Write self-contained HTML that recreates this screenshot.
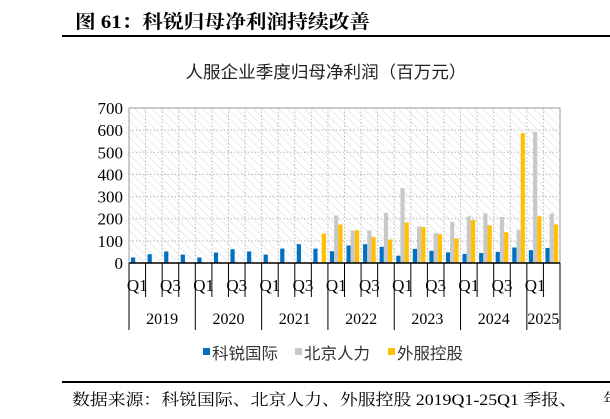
<!DOCTYPE html>
<html><head><meta charset="utf-8"><style>
body{margin:0;background:#fff;}
svg{display:block;}
</style></head><body>
<svg width="610" height="419" xmlns="http://www.w3.org/2000/svg">
<defs>
<pattern id="hatch" width="6" height="6" patternUnits="userSpaceOnUse" patternTransform="rotate(-45)">
<rect width="6" height="6" fill="#fff"/><line x1="0" y1="0" x2="0" y2="6" stroke="#e4e4e4" stroke-width="1.5"/>
</pattern>
</defs>
<text x="75" y="28" textLength="295" lengthAdjust="spacingAndGlyphs" font-family="'Liberation Serif','Noto Serif CJK SC',serif" font-size="19" font-weight="bold" fill="#000">图 61：科锐归母净利润持续改善</text>
<line x1="62" y1="36" x2="610" y2="36" stroke="#000" stroke-width="2"/>
<text x="326" y="78" textLength="281" lengthAdjust="spacingAndGlyphs" text-anchor="middle" font-family="'Liberation Sans','Noto Sans CJK SC',sans-serif" font-size="17" fill="#222">人服企业季度归母净利润（百万元）</text>
<rect x="129" y="108" width="431" height="155" fill="url(#hatch)" stroke="#999"/>
<g id="grid"></g>
<g id="bars"></g>
<g id="axes"></g>
<g font-family="'Liberation Sans','Noto Sans CJK SC',sans-serif" font-size="16" fill="#333">
<rect x="203" y="348" width="7" height="7" fill="#0070c0"/>
<text x="212" y="359" textLength="66" lengthAdjust="spacingAndGlyphs">科锐国际</text>
<rect x="295" y="348" width="7" height="7" fill="#c8c8c8"/>
<text x="304" y="359" textLength="66" lengthAdjust="spacingAndGlyphs">北京人力</text>
<rect x="388" y="348" width="7" height="7" fill="#ffc000"/>
<text x="397" y="359" textLength="66" lengthAdjust="spacingAndGlyphs">外服控股</text>
</g>
<line x1="62" y1="382" x2="610" y2="382" stroke="#000" stroke-width="2"/>
<text x="72" y="405" textLength="505" lengthAdjust="spacingAndGlyphs" font-family="'Liberation Serif','Noto Serif CJK SC',serif" font-size="16" fill="#000">数据来源：科锐国际、北京人力、外服控股 2019Q1-25Q1 季报、</text>
<text x="603" y="405" font-family="'Liberation Serif','Noto Serif CJK SC',serif" font-size="16" fill="#000">年</text>
</svg>
<script>
const quarters=["Q1","Q2","Q3","Q4","Q1","Q2","Q3","Q4","Q1","Q2","Q3","Q4","Q1","Q2","Q3","Q4","Q1","Q2","Q3","Q4","Q1","Q2","Q3","Q4","Q1","Q2"];
const years=["2019","2020","2021","2022","2023","2024","2025"];
const kerui=[25,40,52,38,25,47,62,52,38,65,85,65,53,79,85,73,33,64,55,48,41,45,50,70,58,68];
const beijing=[null,null,null,null,null,null,null,null,null,null,null,null,215,147,147,227,338,165,135,185,211,224,208,150,592,223];
const waifu=[null,null,null,null,null,null,null,null,null,null,null,133,174,148,117,106,183,162,130,111,194,170,139,586,211,174];
const yTicks=[0,100,200,300,400,500,600,700];
const NS="http://www.w3.org/2000/svg";
const X0=129,X1=560,Y0=263,Y1=108,YMAX=700;
const cw=(X1-X0)/quarters.length;
const y=v=>Y0-(v/YMAX)*(Y0-Y1);
const xc=i=>X0+cw*i;
function mk(tag,attrs,parent){const e=document.createElementNS(NS,tag);for(const k in attrs)e.setAttribute(k,attrs[k]);document.getElementById(parent).appendChild(e);return e;}
yTicks.forEach(t=>{
 if(t>0&&t<YMAX){const l=mk('line',{x1:X0,x2:X1,y1:y(t),y2:y(t),stroke:'#bbb','stroke-dasharray':'1.5,2'},'grid');
 
 }
 const tx=mk('text',{x:X0-6,y:y(t)+6,'text-anchor':'end','font-family':"'Liberation Serif',serif",'font-size':'17',fill:'#000'},'axes');
 tx.textContent=t;
 
 
});
for(let i=1;i<quarters.length;i++){
 const l=mk('line',{x1:xc(i),x2:xc(i),y1:Y1,y2:Y0,stroke:'#bbb','stroke-dasharray':'1.5,2'},'grid');
 
 
}
const bw=4.2;
const series=[[kerui,'#0070c0','kerui'],[beijing,'#c8c8c8','beijing'],[waifu,'#ffc000','waifu']];
quarters.forEach((q,i)=>{
 series.forEach((s,j)=>{
  const v=s[0][i]; if(v==null)return;
  const r=mk('rect',{x:xc(i)+2+j*bw,y:y(v),width:bw,height:Y0-y(v),fill:s[1]},'bars');
  
  
 });
});
mk('line',{x1:X0,x2:X1,y1:Y0,y2:Y0,stroke:'#000','stroke-width':1.5},'axes');
for(let i=0;i<=quarters.length;i++){
 const yearSep=(i%4===0)||i===quarters.length;
 const l=mk('line',{x1:xc(i),x2:xc(i),y1:Y0,y2:yearSep?330:297,stroke:'#000','stroke-width':1},'axes');
 
 
}
quarters.forEach((q,i)=>{
 if(i%2!==0)return;
 const t=mk('text',{x:xc(i)+cw/2,y:291,'text-anchor':'middle','font-family':"'Liberation Serif',serif",'font-size':'17',fill:'#000'},'axes');
 t.textContent=q;
 
 
});
years.forEach((yr,k)=>{
 const s=k*4,e=Math.min(k*4+4,quarters.length);
 const t=mk('text',{x:(xc(s)+xc(e))/2,y:324,'text-anchor':'middle','font-family':"'Liberation Serif',serif",'font-size':'16',fill:'#000'},'axes');
 t.textContent=yr;
 
 
});
</script>
</body></html>
